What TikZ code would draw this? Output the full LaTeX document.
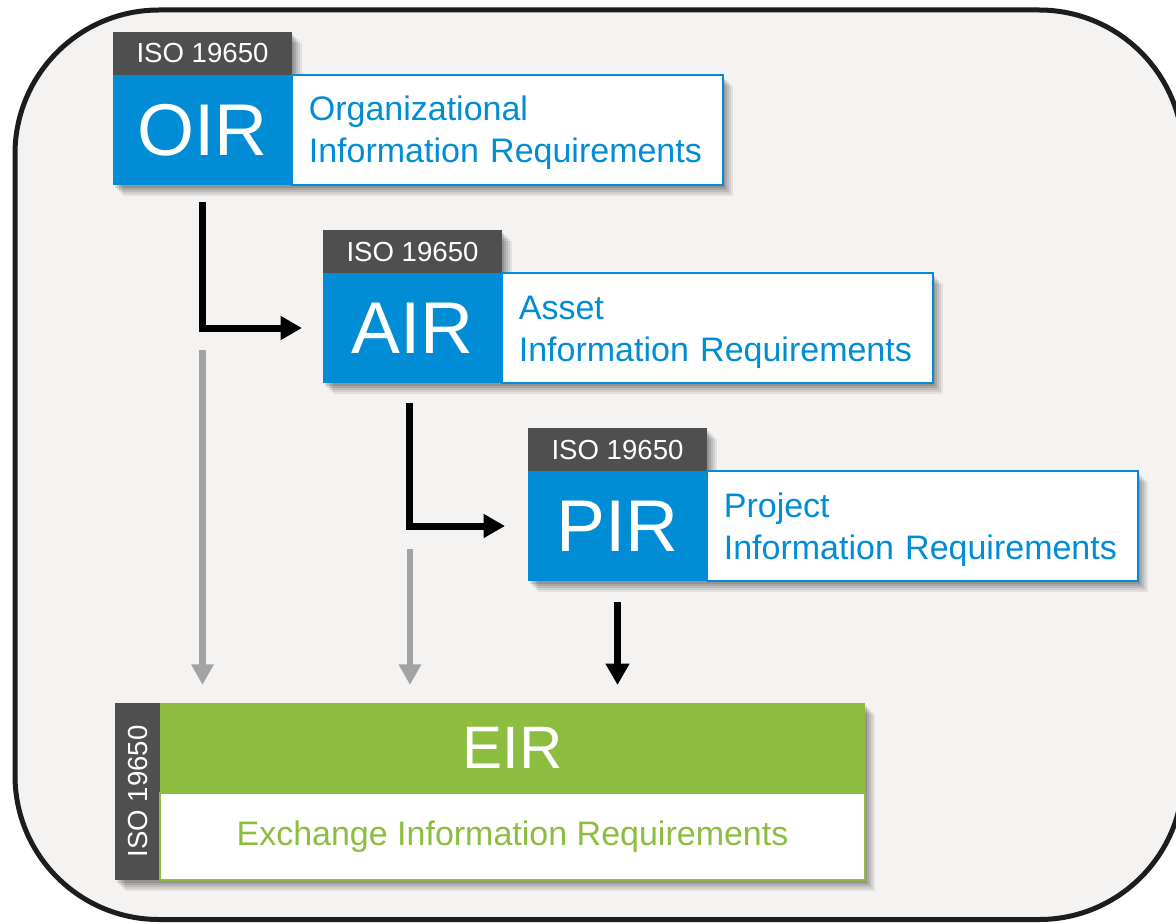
\documentclass[tikz,border=0pt]{standalone}
\usepackage{fontspec}
\setmainfont{Liberation Sans}
\usetikzlibrary{arrows.meta,shadows,calc}
\definecolor{bgcol}{HTML}{F5F3F1}
\definecolor{framecol}{HTML}{1B1D1F}
\definecolor{isoblue}{HTML}{008DD5}
\definecolor{tabgrey}{HTML}{4F4F4F}
\definecolor{eirgreen}{HTML}{8CBD3F}
\definecolor{lightarrow}{HTML}{A3A3A3}
\begin{document}
\begin{tikzpicture}[x=0.75pt,y=-0.75pt,
  shadowed/.style={
    general shadow={fill=black,draw=none,opacity=0.07,shadow xshift=7.5pt,shadow yshift=-8pt},
    general shadow={fill=black,draw=none,opacity=0.08,shadow xshift=6pt,shadow yshift=-6.5pt},
    general shadow={fill=black,draw=none,opacity=0.09,shadow xshift=4.5pt,shadow yshift=-5pt},
    general shadow={fill=black,draw=none,opacity=0.1,shadow xshift=3pt,shadow yshift=-3.5pt},
    general shadow={fill=black,draw=none,opacity=0.12,shadow xshift=1.5pt,shadow yshift=-2pt}},
  isotab/.style={fill=tabgrey,text=white,inner sep=0pt,outer sep=0pt,
    minimum width=134.25pt,minimum height=32.25pt,
    font=\fontsize{20.7}{24}\selectfont,shadowed},
  bluebox/.style={fill=isoblue,text=white,inner sep=0pt,outer sep=0pt,
    minimum width=134.25pt,minimum height=82.5pt,
    font=\fontsize{55}{60}\selectfont,shadowed},
  whitebox/.style={fill=white,draw=isoblue,line width=1.1pt,text=isoblue,
    inner xsep=12pt,inner ysep=0pt,outer sep=0pt,
    minimum width=323.25pt,text width=298pt,minimum height=82.5pt,align=left,
    text height=20pt,text depth=33.5pt,
    font=\fontsize{25.5}{31.5}\selectfont,shadowed},
  vtab/.style={fill=tabgrey,text=white,inner sep=0pt,outer sep=0pt,
    minimum width=33.75pt,minimum height=132.75pt,shadowed},
  greenbox/.style={fill=eirgreen,text=white,inner sep=0pt,outer sep=0pt,
    minimum width=528.75pt,minimum height=67.5pt,
    font=\fontsize{45}{50}\selectfont,shadowed},
  eirwhite/.style={fill=white,draw=eirgreen,line width=1.1pt,text=eirgreen,
    inner sep=0pt,outer sep=0pt,
    minimum width=528.75pt,minimum height=65.25pt,
    font=\fontsize{25.5}{31.5}\selectfont,shadowed},
  blackflow/.style={draw=black,line width=5.25pt,
    -{Triangle[length=16pt,width=17pt]}},
  greyflow/.style={draw=lightarrow,line width=5pt,
    -{Triangle[length=15.5pt,width=16pt]}}
]
\clip (0,0) rectangle (1176,923);
\fill[white] (0,0) rectangle (1176,923);
% outer frame
\draw[draw=framecol,fill=bgcol,line width=3.75pt,rounded corners=108pt]
  (15,10) rectangle (1183,919.5);

% OIR
\node[isotab,anchor=south west] (oirtab) at (113,75) {ISO 19650};
\node[bluebox,anchor=north west] (oir) at (113,75) {OIR};
\node[whitebox,anchor=north west] (oirtext) at (oir.north east)
  {Organizational\\Information Requirements};

% AIR
\node[isotab,anchor=south west] (airtab) at (323,273) {ISO 19650};
\node[bluebox,anchor=north west] (air) at (323,273) {AIR};
\node[whitebox,anchor=north west] (airtext) at (air.north east)
  {Asset\\Information Requirements};

% PIR
\node[isotab,anchor=south west] (pirtab) at (528,471) {ISO 19650};
\node[bluebox,anchor=north west] (pir) at (528,471) {PIR};
\node[whitebox,anchor=north west] (pirtext) at (pir.north east)
  {Project\\Information Requirements};

% EIR
\node[vtab,anchor=north west] (eirtab) at (115,703) {};
\node[text=white,rotate=90,font=\fontsize{20.7}{24}\selectfont] (eirtablabel)
  at (eirtab.center) {ISO 19650};
\node[greenbox,anchor=north west] (eir) at (160,703) {EIR};
\node[eirwhite,anchor=north west] (eirtext) at (eir.south west)
  {Exchange Information Requirements};

% flows
\draw[blackflow] ([yshift=-12.75pt]oir.south) |- ([xshift=-15.75pt]air.west);
\draw[blackflow] ([xshift=-1.9pt,yshift=-15pt]air.south) |- ([xshift=-17.25pt]pir.west);
\draw[blackflow] ([yshift=-15.75pt]pir.south) -- ([yshift=13.5pt]pir.south |- eir.north);
\draw[greyflow] ([yshift=-123.75pt]oir.south) -- ([yshift=13.5pt]oir.south |- eir.north);
\draw[greyflow] ([xshift=-1.9pt,yshift=-124.5pt]air.south) -- ([xshift=-1.9pt,yshift=13.5pt]air.south |- eir.north);
\end{tikzpicture}
\end{document}
